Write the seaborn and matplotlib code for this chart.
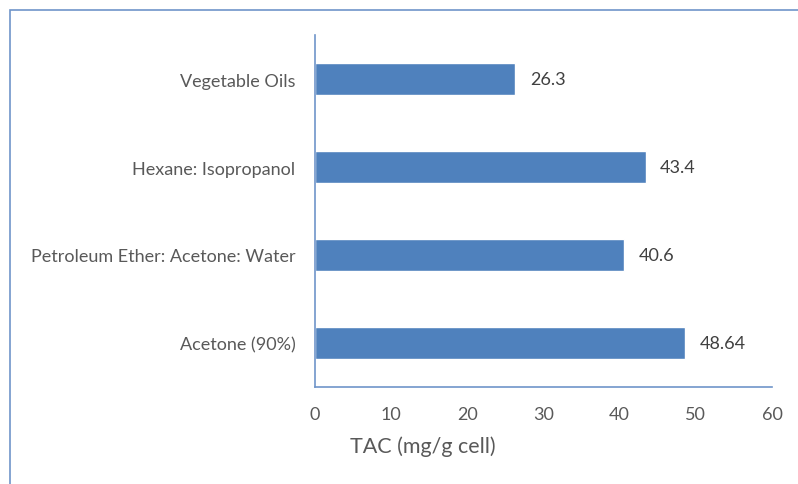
import matplotlib
matplotlib.use("Agg")
import matplotlib.pyplot as plt
import matplotlib.patches as mpatches
import pandas as pd
import seaborn as sns

solvents = ["Vegetable Oils", "Hexane: Isopropanol",
            "Petroleum Ether: Acetone: Water", "Acetone (90%)"]
tac = [26.3, 43.4, 40.6, 48.64]
tac_labels = ["26.3", "43.4", "40.6", "48.64"]
x_ticks = [0, 10, 20, 30, 40, 50, 60]

bar_color = "#4F81BD"
text_color = "#595959"

sns.set_theme(style="white")
plt.rcParams["font.family"] = ["Lato", "DejaVu Sans"]

df = pd.DataFrame({"solvent": solvents, "tac": tac})

fig = plt.figure(figsize=(7.98, 4.85), dpi=100)
ax = fig.add_axes([315 / 798, 1 - 388 / 485, 457 / 798, 352 / 485])

sns.barplot(data=df, x="tac", y="solvent", color=bar_color, width=0.36,
            saturation=1, ax=ax)

for i, (v, lab) in enumerate(zip(tac, tac_labels)):
    ax.text(v + 1.9, i, lab, va="center", ha="left", fontsize=13,
            color="#404040")

ax.set_xlim(0, 60)
ax.set_ylim(3.5, -0.5)
ax.set_xticks(x_ticks)
ax.tick_params(axis="both", length=0, labelsize=13, labelcolor=text_color)
ax.tick_params(axis="x", pad=14)
ax.tick_params(axis="y", pad=14)
ax.set_ylabel("")
ax.set_xlabel("")

for side in ["top", "right"]:
    ax.spines[side].set_visible(False)
for side in ["left", "bottom"]:
    ax.spines[side].set_color("#6F95C9")
    ax.spines[side].set_linewidth(1.2)

fig.text(423 / 798, 1 - 447 / 485, "TAC (mg/g cell)", ha="center",
         va="center", fontsize=15.5, color=text_color)

# outer chart frame
frame = mpatches.Rectangle((10 / 798, -0.1), 1.2, 1 - 11 / 485 + 0.1,
                           transform=fig.transFigure, fill=False,
                           edgecolor="#6F95C9", linewidth=1.2)
fig.patches.append(frame)

fig.savefig("out.png", dpi=100)
